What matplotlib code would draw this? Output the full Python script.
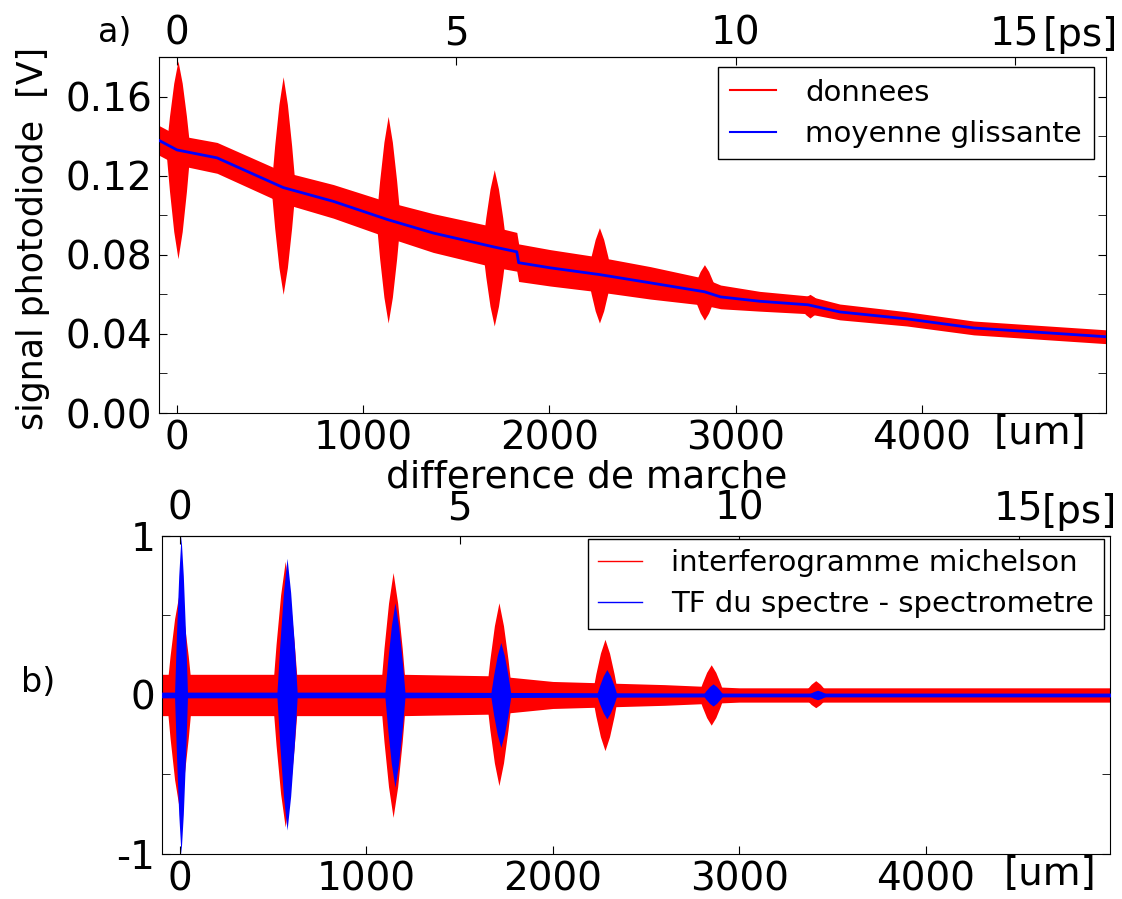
import numpy as np
import matplotlib
matplotlib.use('Agg')
from matplotlib import pyplot as plt
from matplotlib.lines import Line2D

# ---------- a) signal photodiode ----------
pos_um = [-100, 0, 215, 570, 840, 1134, 1376, 1700, 1825, 1835, 2005, 2269,
          2543, 2833, 2920, 3130, 3390, 3560, 3920, 4280, 4600, 5000]
moyenne = [0.138, 0.133, 0.129, 0.114, 0.107, 0.0977, 0.091, 0.084, 0.0815,
           0.076, 0.0734, 0.070, 0.0658, 0.0613, 0.0587, 0.0565, 0.0547,
           0.0511, 0.0476, 0.043, 0.041, 0.0385]
bruit_a = [0.0075, 0.0075, 0.0078, 0.008, 0.0085, 0.009, 0.0098, 0.0102, 0.0098,
           0.0095, 0.0092, 0.0088, 0.0082, 0.0068, 0.006, 0.005, 0.0045,
           0.004, 0.0036, 0.0035, 0.0035, 0.0035]

pics_a_um = [5, 570, 1134, 1704, 2269, 2833, 3400]
pics_a_centre = [0.133, 0.114, 0.0977, 0.084, 0.070, 0.0613, 0.0547]
pics_a_haut = [0.178, 0.170, 0.150, 0.123, 0.0937, 0.075, 0.060]
pics_a_bas = [0.078, 0.060, 0.0455, 0.044, 0.0455, 0.047, 0.048]

# ---------- b) interferogramme / TF ----------
bruit_b_um = [-100, 1200, 1700, 2000, 2600, 3000, 5000]
bruit_b = [0.13, 0.13, 0.12, 0.085, 0.065, 0.045, 0.045]
tf_fond = [0.018, 0.018, 0.016, 0.015, 0.013, 0.012, 0.012]

pics_b_um = [5, 574, 1153, 1721, 2290, 2860, 3421]
interf_haut = [0.64, 0.84, 0.77, 0.58, 0.35, 0.19, 0.09]
interf_bas = [-0.71, -0.83, -0.77, -0.57, -0.35, -0.19, -0.08]
tf_haut = [1.0, 0.86, 0.58, 0.33, 0.16, 0.07, 0.03]
tf_bas = [-1.0, -0.85, -0.58, -0.33, -0.15, -0.07, -0.03]

# forme des paquets (enveloppe)
forme_dx = np.array([-1, -0.7, -0.35, 0, 0.35, 0.7, 1])
forme_amp = np.array([0, 0.38, 0.75, 1, 0.75, 0.38, 0])


def paquet(ax, c, mid, haut, bas, demi, col, z=2):
    x = c + demi * forme_dx
    ax.fill_between(x, mid - forme_amp * (mid - bas), mid + forme_amp * (haut - mid),
                    color=col, lw=0, zorder=z)


def um2ps(x):
    return np.asarray(x) / 300.0


def ps2um(t):
    return np.asarray(t) * 300.0


matplotlib.rcParams['font.size'] = 28
matplotlib.rcParams['font.family'] = 'DejaVu Sans'

f1 = plt.figure(figsize=(11.22, 8.99), dpi=100)

# GRAFICO a) ##########
ax1 = f1.add_axes((0.1417, 0.5406, 0.844, 0.396))
pos = np.array(pos_um)
moy = np.array(moyenne)
ba = np.array(bruit_a)
ax1.fill_between(pos, moy - ba, moy + ba, color='red', lw=0, zorder=2)
for c, m, h, b in zip(pics_a_um, pics_a_centre, pics_a_haut, pics_a_bas):
    paquet(ax1, c, m, h, b, 65, 'red')
ax1.plot(pos, moy, color='blue', lw=2, zorder=3)

ax1.set_xlim((-97, 4990))
ax1.set_ylim((0, 0.18))
ax1.set_xticks([0, 1000, 2000, 3000, 4000])
ax1.set_yticks([0.0, 0.04, 0.08, 0.12, 0.16])
ax1.set_yticklabels(['0.00', '0.04', '0.08', '0.12', '0.16'])
ax1.set_yticks([0.02, 0.06, 0.10, 0.14, 0.18], minor=True)
ax1.tick_params(axis='both', which='both', direction='in', length=6,
                top=False, right=True, labelsize=28)
ax1.tick_params(axis='x', pad=5)
ax1.tick_params(axis='y', pad=5)

sec1 = ax1.secondary_xaxis('top', functions=(um2ps, ps2um))
sec1.set_xticks([0, 5, 10, 15])
sec1.tick_params(direction='in', length=6, pad=3, labelsize=28)

ax1.legend(handles=[Line2D([], [], color='red', lw=1.5),
                    Line2D([], [], color='blue', lw=1.5)],
           labels=['donnees', 'moyenne glissante'],
           loc='upper right', bbox_to_anchor=(0.987, 0.972), borderaxespad=0,
           fontsize=21, fancybox=False, edgecolor='black', framealpha=1,
           handlelength=1.6, handletextpad=1.0, labelspacing=0.45, borderpad=0.4)

# GRAFICO b) ##########
ax2 = f1.add_axes((0.1444, 0.0501, 0.8449, 0.3537))
bx = np.array(bruit_b_um)
bb = np.array(bruit_b)
tb = np.array(tf_fond)
ax2.fill_between(bx, -bb, bb, color='red', lw=0, zorder=2)
for c, h, b in zip(pics_b_um, interf_haut, interf_bas):
    paquet(ax2, c - 10, 0, h, b, 70, 'red')
ax2.fill_between(bx, -tb, tb, color='blue', lw=0, zorder=3)
for i, (c, h, b) in enumerate(zip(pics_b_um, tf_haut, tf_bas)):
    paquet(ax2, c, 0, h, b, 35 if i == 0 else 55, 'blue', z=3)

ax2.set_xlim((-97, 4990))
ax2.set_ylim((-1, 1))
ax2.set_xticks([0, 1000, 2000, 3000, 4000])
ax2.set_yticks([-1, 0, 1])
ax2.set_yticklabels(['-1', '0', '1'])
ax2.set_yticks([-0.5, 0.5], minor=True)
ax2.tick_params(axis='both', which='both', direction='in', length=6,
                top=False, right=True, labelsize=28)
ax2.tick_params(axis='x', pad=5)
ax2.tick_params(axis='y', pad=5)

sec2 = ax2.secondary_xaxis('top', functions=(um2ps, ps2um))
sec2.set_xticks([0, 5, 10, 15])
sec2.tick_params(direction='in', length=6, pad=6, labelsize=28)

ax2.legend(handles=[Line2D([], [], color='red', lw=1.0),
                    Line2D([], [], color='blue', lw=1.0)],
           labels=['interferogramme michelson', 'TF du spectre - spectrometre'],
           loc='upper right', bbox_to_anchor=(0.994, 0.99), borderaxespad=0,
           fontsize=21, fancybox=False, edgecolor='black', framealpha=1,
           handlelength=1.5, handletextpad=1.0, labelspacing=0.45, borderpad=0.35)

### testi
f1.text(0.1025, 0.9633, 'a)', fontsize=24, ha='center', va='center')
f1.text(0.0339, 0.2403, 'b)', fontsize=24, ha='center', va='center')
f1.text(0.029, 0.735, 'signal photodiode  [V]', fontsize=25, rotation=90,
        ha='center', va='center')
f1.text(0.523, 0.469, 'difference de marche', fontsize=27, ha='center', va='center')
f1.text(0.927, 0.518, '[um]', fontsize=28, ha='center', va='center')
f1.text(0.936, 0.028, '[um]', fontsize=28, ha='center', va='center')
f1.text(0.9626, 0.961, '[ps]', fontsize=28, ha='center', va='center')
f1.text(0.9617, 0.430, '[ps]', fontsize=28, ha='center', va='center')

f1.savefig('out.png', dpi=100)
